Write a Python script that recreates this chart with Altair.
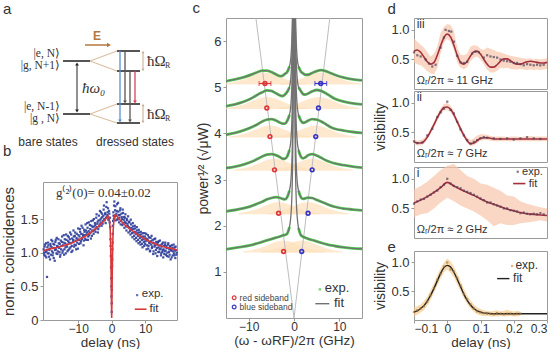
import altair as alt
import pandas as pd

SANS = "Liberation Sans"
SERIF = "Liberation Serif"
TXT = "#333333"
FRAME = "#9a9a9a"

# ---------------- panel a : level diagram (diagram units = picture px) ----------------
a_level_x = [63, 63, 117, 117, 117, 117]
a_level_x2 = [90, 90, 140, 140, 140, 140]
a_level_y = [61, 114, 51, 71, 104, 123]
a_split_x = [90, 90, 90, 90]
a_split_y = [61, 61, 114, 114]
a_split_x2 = [117, 117, 117, 117]
a_split_y2 = [51, 71, 104, 123]
a_trans_x = [120, 125, 130, 135]
a_trans_y = [51, 51, 71, 71]
a_trans_y2 = [121, 102, 121, 102]
a_trans_col = ["#5a8fd4", "#555555", "#555555", "#d8435a"]
a_kets = ["|e, N⟩", "|g, N+1⟩", "|e, N-1⟩", "|g , N⟩"]
a_kets_y = [54, 66, 107, 119]

# ---------------- panel b : g2 ----------------
b_exp = [
    (-20.3,1.05),(-20.1,0.97),(-19.9,1.12),(-19.7,1.01),(-19.5,0.93),(-19.3,0.64),(-19.2,1.08),(-19.0,1.15),(-18.8,0.99),(-18.6,1.04),
    (-18.4,0.90),(-18.2,1.10),(-18.0,1.19),(-17.8,1.02),(-17.6,0.96),(-17.4,1.13),(-17.2,1.07),(-17.0,0.88),(-16.8,1.16),(-16.6,1.05),
    (-16.4,1.22),(-16.2,0.98),(-16.0,1.09),(-15.8,1.14),(-15.6,1.01),(-15.4,0.94),(-15.2,1.18),(-15.0,1.10),(-14.8,1.24),(-14.6,1.03),
    (-14.4,1.15),(-14.2,0.97),(-14.0,1.20),(-13.8,1.08),(-13.6,1.27),(-13.4,1.12),(-13.2,1.02),(-13.0,1.17),(-12.8,1.23),(-12.6,1.06),
    (-12.4,1.30),(-12.2,1.14),(-12.0,1.01),(-11.8,1.21),(-11.6,1.16),(-11.4,1.33),(-11.2,1.09),(-11.0,1.25),(-10.8,1.18),(-10.6,1.05),
    (-10.4,1.28),(-10.2,1.20),(-10.0,1.36),(-9.8,1.13),(-9.6,1.24),(-9.4,1.31),(-9.2,1.17),(-9.0,1.40),(-8.8,1.22),(-8.6,1.27),
    (-8.4,1.11),(-8.2,1.34),(-8.0,1.26),(-7.8,1.42),(-7.6,1.19),(-7.4,1.30),(-7.2,1.37),(-7.0,1.24),(-6.8,1.45),(-6.6,1.29),
    (-6.4,1.35),(-6.2,1.21),(-6.0,1.40),(-5.8,1.33),(-5.6,1.48),(-5.4,1.28),(-5.2,1.39),(-5.0,1.44),(-4.8,1.31),(-4.6,1.52),
    (-4.4,1.38),(-4.2,1.46),(-4.0,1.35),(-3.8,1.55),(-3.6,1.42),(-3.4,1.49),(-3.2,1.60),(-3.0,1.40),(-2.8,1.53),(-2.6,1.47),
    (-2.4,1.64),(-2.2,1.50),(-2.0,1.57),(-1.8,1.44),(-1.6,1.68),(-1.4,1.53),(-1.2,1.60),(-1.0,1.49),(-0.8,1.62),(-0.6,1.45),
    (-0.45,1.38),(-0.35,1.20),(-0.25,0.95),(-0.15,0.62),(-0.08,0.35),(0.0,0.12),(0.05,0.45),(0.12,0.80),(0.2,1.05),(0.3,1.28),
    (0.42,1.47),(0.55,1.55),(0.7,1.70),(0.85,1.52),(1.0,1.63),(1.2,1.48),(1.4,1.58),(1.6,1.72),(1.8,1.50),(2.0,1.61),
    (2.2,1.45),(2.4,1.56),(2.6,1.66),(2.8,1.47),(3.0,1.53),(3.2,1.41),(3.4,1.59),(3.6,1.49),(3.8,1.37),(4.0,1.52),
    (4.2,1.44),(4.4,1.33),(4.6,1.48),(4.8,1.40),(5.0,1.30),(5.2,1.46),(5.4,1.36),(5.6,1.27),(5.8,1.42),(6.0,1.34),
    (6.2,1.23),(6.4,1.39),(6.6,1.30),(6.8,1.20),(7.0,1.36),(7.2,1.28),(7.4,1.17),(7.6,1.33),(7.8,1.25),(8.0,1.14),
    (8.2,1.30),(8.4,1.22),(8.6,1.12),(8.8,1.27),(9.0,1.19),(9.2,1.08),(9.4,1.24),(9.6,1.16),(9.8,1.29),(10.0,1.13),
    (10.2,1.21),(10.4,1.05),(10.6,1.18),(10.8,1.26),(11.0,1.10),(11.2,1.15),(11.4,1.02),(11.6,1.22),(11.8,1.12),(12.0,1.07),
    (12.2,1.19),(12.4,0.98),(12.6,1.14),(12.8,1.09),(13.0,1.21),(13.2,1.04),(13.4,1.12),(13.6,0.95),(13.8,1.16),(14.0,1.08),
    (14.2,1.01),(14.4,1.18),(14.6,1.06),(14.8,0.99),(15.0,1.13),(15.2,1.04),(15.4,0.93),(15.6,1.10),(15.8,1.02),(16.0,1.15),
    (16.2,0.97),(16.4,1.07),(16.6,1.00),(16.8,1.12),(17.0,0.94),(17.2,1.05),(17.4,1.09),(17.6,0.90),(17.8,1.03),(18.0,1.11),
    (18.2,0.96),(18.4,1.06),(18.6,0.99),(18.8,1.08),(19.0,0.92),(19.2,1.04),(19.4,1.00),
    (-20.2,1.00),(-20.0,1.09),(-19.8,0.95),(-19.6,1.14),(-19.4,1.03),(-19.1,0.99),(-18.9,1.11),(-18.7,0.94),(-18.5,1.06),(-18.3,1.13),
    (-18.1,0.97),(-17.9,1.08),(-17.7,1.17),(-17.5,1.00),(-17.3,0.92),(-17.1,1.12),(-16.9,1.04),(-16.7,1.19),(-16.5,0.99),(-16.3,1.10),
    (-16.1,1.02),(-15.9,1.20),(-15.7,1.07),(-15.5,1.13),(-15.3,0.97),(-15.1,1.05),(-14.9,1.16),(-14.7,1.00),(-14.5,1.11),(-14.3,1.26),
    (-14.1,1.05),(-13.9,1.14),(-13.7,0.99),(-13.5,1.19),(-13.3,1.09),(-13.1,1.25),(-12.9,1.04),(-12.7,1.15),(-12.5,1.20),(-12.3,1.08),
    (-12.1,1.27),(-11.9,1.10),(-11.7,1.03),(-11.5,1.19),(-11.3,1.24),(-11.1,1.12),(-10.9,1.30),(-10.7,1.11),(-10.5,1.22),(-10.3,1.15),
    (-10.1,1.06),(-9.9,1.26),(-9.7,1.19),(-9.5,1.35),(-9.3,1.14),(-9.1,1.28),(-8.9,1.20),(-8.7,1.37),(-8.5,1.25),(-8.3,1.18),
    (-8.1,1.31),(-7.9,1.21),(-7.7,1.33),(-7.5,1.27),(-7.3,1.44),(-7.1,1.19),(-6.9,1.32),(-6.7,1.26),(-6.5,1.41),(-6.3,1.30),
    (-6.1,1.47),(-5.9,1.25),(-5.7,1.38),(-5.5,1.32),(-5.3,1.50),(-5.1,1.34),(-4.9,1.41),(-4.7,1.36),(-4.5,1.57),(-4.3,1.43),
    (-4.1,1.30),(-3.9,1.48),(-3.7,1.39),(-3.5,1.62),(-3.3,1.45),(-3.1,1.51),(-2.9,1.58),(-2.7,1.43),(-2.5,1.55),(-2.3,1.70),
    (-2.1,1.48),(-1.9,1.59),(-1.7,1.52),(-1.5,1.75),(-1.3,1.56),(-1.1,1.66),(-0.9,1.51),(-0.7,1.58),(-0.5,1.52),(-0.3,1.10),
    (-0.2,0.78),(-0.1,0.50),(0.02,0.25),(0.08,0.62),(0.15,0.90),(0.25,1.15),(0.35,1.40),(0.5,1.60),(0.65,1.50),(0.8,1.76),
    (0.95,1.55),(1.1,1.69),(1.3,1.55),(1.5,1.62),(1.7,1.49),(1.9,1.74),(2.1,1.56),(2.3,1.52),(2.5,1.63),(2.7,1.42),
    (2.9,1.58),(3.1,1.50),(3.3,1.64),(3.5,1.44),(3.7,1.53),(3.9,1.46),(4.1,1.57),(4.3,1.39),(4.5,1.50),(4.7,1.43),
    (4.9,1.54),(5.1,1.38),(5.3,1.45),(5.5,1.32),(5.7,1.49),(5.9,1.37),(6.1,1.29),(6.3,1.44),(6.5,1.35),(6.7,1.25),
    (6.9,1.40),(7.1,1.31),(7.3,1.22),(7.5,1.38),(7.7,1.29),(7.9,1.19),(8.1,1.34),(8.3,1.26),(8.5,1.16),(8.7,1.31),
    (8.9,1.23),(9.1,1.13),(9.3,1.29),(9.5,1.20),(9.7,1.10),(9.9,1.24),(10.1,1.17),(10.3,1.28),(10.5,1.11),(10.7,1.20),
    (10.9,1.06),(11.1,1.23),(11.3,1.14),(11.5,1.03),(11.7,1.17),(11.9,1.25),(12.1,1.09),(12.3,1.15),(12.5,1.02),(12.7,1.20),
    (12.9,1.11),(13.1,0.99),(13.3,1.16),(13.5,1.07),(13.7,1.13),(13.9,1.01),(14.1,1.17),(14.3,1.05),(14.5,1.11),(14.7,0.96),
    (14.9,1.09),(15.1,1.01),(15.3,1.15),(15.5,1.05),(15.7,0.98),(15.9,1.12),(16.1,1.03),(16.3,1.10),(16.5,0.95),(16.7,1.07),
    (16.9,1.14),(17.1,1.01),(17.3,0.97),(17.5,1.10),(17.7,1.04),(17.9,0.93),(18.1,1.07),(18.3,1.02),(18.5,1.12),(18.7,0.96),
    (18.9,1.03),(19.1,1.09),(19.3,0.97),
]
b_fit_x = [-20.5,-18,-16,-14,-12,-10,-8,-6,-4,-3,-2,-1.5,-1,-0.7,-0.45,-0.3,-0.18,-0.08,0,0.08,0.18,0.3,0.45,0.7,1,1.5,2,3,4,6,8,10,12,14,16,18,19.5]
b_fit_y = [1.03,1.06,1.08,1.11,1.14,1.19,1.24,1.31,1.39,1.44,1.49,1.52,1.54,1.50,1.35,1.10,0.75,0.30,0.03,0.30,0.75,1.10,1.35,1.50,1.56,1.55,1.51,1.46,1.41,1.33,1.26,1.20,1.15,1.11,1.08,1.06,1.04]

# ---------------- panel c : spectra ----------------
c_x = [-15,-13,-11,-9,-8,-7,-6,-5,-4,-3,-2.5,-2,-1.5,-1,-0.7,-0.5,-0.3,-0.2,-0.1,0,
       0.1,0.2,0.3,0.5,0.7,1,1.5,2,2.5,3,4,5,6,7,8,9,11,13,15]
c_traces = [
    [1.49,1.52,1.55,1.59,1.62,1.65,1.68,1.71,1.74,1.77,1.79,1.80,1.83,1.97,2.2,2.55,3.4,4.4,5.8,7.8,
     5.8,4.4,3.4,2.55,2.2,1.95,1.80,1.76,1.74,1.72,1.69,1.66,1.63,1.60,1.58,1.56,1.53,1.51,1.50],
    [2.31,2.34,2.38,2.44,2.48,2.52,2.57,2.60,2.62,2.60,2.58,2.57,2.62,2.76,2.96,3.31,4.16,5.16,6.56,8.6,
     6.56,5.16,4.16,3.31,2.96,2.76,2.62,2.58,2.59,2.61,2.60,2.56,2.52,2.48,2.44,2.41,2.37,2.35,2.33],
    [3.25,3.28,3.33,3.40,3.45,3.50,3.54,3.55,3.53,3.48,3.45,3.45,3.50,3.64,3.84,4.19,5.04,6.04,7.44,9.4,
     7.44,6.04,5.04,4.19,3.84,3.64,3.50,3.46,3.48,3.52,3.55,3.52,3.47,3.42,3.38,3.35,3.31,3.28,3.26],
    [3.97,4.01,4.07,4.15,4.20,4.26,4.30,4.31,4.28,4.23,4.21,4.21,4.27,4.40,4.60,4.95,5.8,6.8,8.2,10,
     8.2,6.8,5.8,4.95,4.60,4.40,4.28,4.23,4.24,4.27,4.31,4.30,4.26,4.20,4.14,4.10,4.06,4.03,4.01],
    [4.59,4.63,4.69,4.78,4.84,4.89,4.93,4.92,4.87,4.82,4.81,4.84,4.90,5.0,5.2,5.55,6.4,7.4,8.8,10,
     8.8,7.4,6.4,5.55,5.2,5.0,4.92,4.85,4.84,4.86,4.91,4.94,4.92,4.87,4.81,4.75,4.69,4.65,4.63],
    [5.13,5.17,5.22,5.29,5.33,5.36,5.36,5.33,5.28,5.24,5.25,5.29,5.33,5.45,5.63,5.98,6.83,7.8,9.2,10,
     9.2,7.8,6.83,5.98,5.63,5.45,5.34,5.30,5.27,5.27,5.31,5.35,5.37,5.35,5.31,5.27,5.21,5.17,5.15],
]
c_base = [1.49, 2.32, 3.26, 3.98, 4.60, 5.13]
c_red = [-2.3, -3.4, -4.3, -5.3, -6.0, -6.4]
c_blue = [1.7, 3.1, 4.0, 4.8, 5.4, 5.9]
c_err = 1.3
c_peach_dx = [-9,-7,-5,-4,-3,-2,-1,0,1,2,3,4,5,7,9]
c_peach_h = [0.02,0.05,0.10,0.14,0.18,0.22,0.25,0.26,0.25,0.22,0.18,0.14,0.10,0.05,0.02]
c_vline_x = [0, -8.4, 0, 7.9]
c_vline_y = [0, 6.5, 0, 6.5]
c_vline_g = ["L", "L", "R", "R"]

# ---------------- panels d, e : visibility ----------------
d_x = [-0.10,-0.09,-0.08,-0.07,-0.06,-0.05,-0.04,-0.03,-0.02,-0.01,0.00,0.01,0.02,0.03,0.04,0.05,0.06,0.07,0.08,0.09,0.10,
       0.11,0.12,0.13,0.14,0.15,0.16,0.17,0.18,0.19,0.20,0.21,0.22,0.23,0.24,0.25,0.26,0.27,0.28,0.29,0.30]
d3_fit = [0.64,0.66,0.62,0.54,0.46,0.42,0.45,0.57,0.73,0.87,0.93,0.88,0.74,0.57,0.45,0.42,0.47,0.56,0.63,0.64,0.59,
          0.50,0.42,0.37,0.37,0.41,0.47,0.51,0.51,0.48,0.44,0.42,0.42,0.44,0.46,0.47,0.46,0.45,0.44,0.44,0.45]
d3_lo = [0.45,0.42,0.40,0.36,0.30,0.26,0.25,0.35,0.60,0.78,0.85,0.80,0.66,0.45,0.36,0.33,0.37,0.47,0.53,0.55,0.50,
         0.42,0.32,0.28,0.28,0.31,0.36,0.35,0.36,0.34,0.33,0.33,0.34,0.33,0.32,0.33,0.32,0.33,0.32,0.33,0.34]
d3_hi = [0.85,0.80,0.75,0.70,0.62,0.55,0.60,0.72,0.95,1.05,1.10,1.08,0.98,0.70,0.58,0.57,0.60,0.72,0.74,0.73,0.68,
         0.66,0.70,0.68,0.66,0.63,0.62,0.60,0.58,0.56,0.55,0.54,0.53,0.52,0.51,0.52,0.50,0.51,0.50,0.51,0.52]
d3_exp = [(-0.10,0.62),(-0.09,0.57),(-0.08,0.55),(-0.065,0.50),(-0.055,0.43),(-0.045,0.38),(-0.035,0.41),(-0.02,0.70),
          (-0.01,0.87),(-0.005,1.00),(0.005,0.98),(0.012,0.97),(0.02,0.80),(0.03,0.56),(0.04,0.45),(0.05,0.44),(0.06,0.46),
          (0.075,0.60),(0.085,0.63),(0.095,0.62),(0.11,0.53),(0.12,0.57),(0.13,0.55),(0.14,0.54),(0.15,0.53),(0.16,0.50),
          (0.17,0.48),(0.18,0.47),(0.19,0.46),(0.20,0.44),(0.21,0.44),(0.22,0.42),(0.23,0.40),(0.24,0.42),(0.25,0.41),
          (0.26,0.40),(0.27,0.41),(0.28,0.40),(0.29,0.41)]
d2_fit = [0.34,0.32,0.32,0.35,0.42,0.52,0.63,0.75,0.85,0.92,0.93,0.89,0.80,0.68,0.56,0.45,0.36,0.31,0.32,0.36,0.40,
          0.41,0.41,0.40,0.39,0.39,0.39,0.39,0.39,0.39,0.39,0.39,0.39,0.39,0.39,0.39,0.39,0.39,0.39,0.39,0.39]
d2_lo = [0.30,0.28,0.28,0.31,0.38,0.48,0.58,0.70,0.80,0.87,0.88,0.84,0.75,0.63,0.51,0.41,0.32,0.27,0.28,0.32,0.36,
         0.37,0.37,0.36,0.35,0.35,0.35,0.35,0.35,0.35,0.35,0.35,0.35,0.35,0.35,0.35,0.35,0.35,0.35,0.35,0.35]
d2_hi = [0.39,0.36,0.37,0.40,0.47,0.57,0.68,0.80,0.91,0.98,1.00,0.95,0.86,0.73,0.61,0.50,0.41,0.37,0.40,0.45,0.47,
         0.47,0.46,0.44,0.43,0.43,0.43,0.43,0.42,0.43,0.43,0.43,0.42,0.43,0.43,0.44,0.43,0.43,0.43,0.43,0.43]
d2_exp = [(-0.10,0.35),(-0.09,0.32),(-0.075,0.33),(-0.06,0.45),(-0.045,0.56),(-0.03,0.76),(-0.02,0.84),(-0.01,0.90),
          (0.0,1.02),(0.01,0.88),(0.02,0.82),(0.03,0.68),(0.04,0.55),(0.05,0.45),(0.06,0.37),(0.07,0.31),(0.08,0.34),
          (0.09,0.37),(0.10,0.40),(0.11,0.42),(0.12,0.41),(0.14,0.40),(0.16,0.39),(0.18,0.40),(0.20,0.38),(0.22,0.40),
          (0.24,0.42),(0.26,0.40),(0.28,0.39)]
d1_x = [-0.10,-0.08,-0.06,-0.04,-0.02,0.00,0.02,0.04,0.06,0.08,0.10,0.12,0.14,0.16,0.18,0.20,0.22,0.24,0.26,0.28,0.30]
d1_fit = [0.59,0.64,0.70,0.77,0.85,0.94,0.88,0.82,0.77,0.72,0.66,0.61,0.57,0.53,0.49,0.46,0.43,0.41,0.40,0.39,0.38]
d1_lo = [0.35,0.40,0.42,0.50,0.60,0.68,0.62,0.55,0.50,0.45,0.38,0.30,0.20,0.25,0.22,0.22,0.25,0.26,0.28,0.30,0.28]
d1_hi = [0.82,0.88,0.95,1.05,1.15,1.22,1.25,1.15,1.05,1.00,0.92,0.90,0.85,0.80,0.72,0.70,0.62,0.58,0.55,0.52,0.50]
d1_exp = [(-0.10,0.58),(-0.09,0.62),(-0.08,0.65),(-0.07,0.66),(-0.06,0.70),(-0.05,0.73),(-0.04,0.77),(-0.03,0.80),
          (-0.02,0.86),(-0.01,0.90),(0.0,1.00),(0.01,0.92),(0.02,0.88),(0.03,0.86),(0.04,0.84),(0.05,0.80),(0.06,0.78),
          (0.07,0.76),(0.08,0.73),(0.09,0.70),(0.10,0.67),(0.11,0.64),(0.12,0.60),(0.13,0.60),(0.14,0.57),(0.15,0.55),
          (0.16,0.53),(0.17,0.50),(0.18,0.50),(0.19,0.47),(0.20,0.46),(0.21,0.45),(0.22,0.42),(0.23,0.43),(0.24,0.41),
          (0.25,0.40),(0.26,0.41),(0.27,0.40),(0.28,0.42),(0.29,0.40)]
e_fit = [0.14,0.16,0.20,0.25,0.33,0.43,0.55,0.68,0.81,0.91,0.95,0.92,0.83,0.71,0.58,0.45,0.34,0.26,0.20,0.16,0.14,
         0.12,0.12,0.11,0.11,0.11,0.11,0.11,0.11,0.11,0.11,0.11,0.11,0.11,0.11,0.11,0.11,0.11,0.11,0.11,0.11]
e_lo = [0.06,0.09,0.13,0.17,0.25,0.35,0.47,0.60,0.72,0.83,0.88,0.82,0.74,0.62,0.50,0.38,0.28,0.20,0.14,0.10,0.08,
        0.07,0.07,0.06,0.06,0.06,0.07,0.06,0.06,0.07,0.06,0.06,0.07]
e_hi = [0.22,0.24,0.27,0.33,0.41,0.52,0.64,0.78,0.90,1.00,1.07,1.02,0.93,0.81,0.68,0.55,0.43,0.34,0.27,0.22,0.19,
        0.17,0.16,0.15,0.16,0.17,0.15,0.16,0.18,0.16,0.15,0.16,0.15]
e_exp = [(-0.10,0.14),(-0.09,0.17),(-0.08,0.20),(-0.07,0.24),(-0.06,0.32),(-0.05,0.43),(-0.04,0.55),(-0.03,0.70),
         (-0.02,0.80),(-0.01,0.93),(0.0,1.00),(0.01,0.88),(0.02,0.84),(0.03,0.73),(0.04,0.60),(0.05,0.45),(0.06,0.36),
         (0.07,0.27),(0.08,0.20),(0.09,0.15),(0.10,0.13),(0.11,0.12),(0.12,0.11),(0.13,0.11),(0.14,0.10),(0.15,0.12),
         (0.16,0.11),(0.17,0.10),(0.18,0.11),(0.19,0.11),(0.20,0.10),(0.21,0.11),(0.22,0.11)]


def XY(xdom, ydom, xaxis=None, yaxis=None, yrev=False):
    x = alt.X("x:Q", scale=alt.Scale(domain=xdom, nice=False, zero=False), axis=xaxis)
    y = alt.Y("y:Q", scale=alt.Scale(domain=ydom, nice=False, zero=False, reverse=yrev), axis=yaxis)
    return x, y


def txt(df, x, y, size, color=TXT, align="left", font=SANS, style="normal", weight="normal"):
    return alt.Chart(df).mark_text(align=align, baseline="middle", fontSize=size, color=color,
                                   font=font, fontStyle=style, fontWeight=weight, clip=False).encode(
        x=x, y=y, text="t:N")


def xaxis_bottom(values, title, expr=None, title_y=15):
    kw = dict(values=values, title=title, titleY=title_y, labelPadding=0, labelFontSize=12, titleFontSize=13.5)
    if expr:
        kw["labelExpr"] = expr
    return alt.Axis(**kw)


# ======================= panel a (plot area = x 43..177, y 18..140 in picture px) =======================
ax, ay = XY([43, 177], [18, 140], yrev=True)
a_layers = [
    alt.Chart(pd.DataFrame({"x": a_split_x, "y": a_split_y, "x2": a_split_x2, "y2": a_split_y2}))
    .mark_rule(color="#dcbfa3", strokeWidth=1.2).encode(x=ax, y=ay, x2="x2:Q", y2="y2:Q"),
    alt.Chart(pd.DataFrame({"x": a_level_x, "x2": a_level_x2, "y": a_level_y}))
    .mark_rule(color="#555555", strokeWidth=2).encode(x=ax, x2="x2:Q", y=ay),
    alt.Chart(pd.DataFrame({"x": a_trans_x, "y": a_trans_y, "y2": a_trans_y2, "c": a_trans_col}))
    .mark_rule(strokeWidth=1.3).encode(x=ax, y=ay, y2="y2:Q", color=alt.Color("c:N", scale=None)),
    alt.Chart(pd.DataFrame({"x": a_trans_x, "y": a_trans_y2, "c": a_trans_col}))
    .mark_point(shape="triangle-down", filled=True, size=14, opacity=1)
    .encode(x=ax, y=ay, color=alt.Color("c:N", scale=None)),
    alt.Chart(pd.DataFrame({"x": [77], "y": [64], "y2": [111]}))
    .mark_rule(color="#222222", strokeWidth=1).encode(x=ax, y=ay, y2="y2:Q"),
    alt.Chart(pd.DataFrame({"x": [77, 77], "y": [64, 111], "s": ["triangle-up", "triangle-down"]}))
    .mark_point(filled=True, size=14, color="#222222", opacity=1)
    .encode(x=ax, y=ay, shape=alt.Shape("s:N", scale=None)),
    alt.Chart(pd.DataFrame({"x": [143, 143], "y": [52, 105], "y2": [70, 122]}))
    .mark_rule(color="#c9a98c", strokeWidth=1).encode(x=ax, y=ay, y2="y2:Q"),
    alt.Chart(pd.DataFrame({"x": [143, 143, 143, 143], "y": [52, 70, 105, 122],
                            "s": ["triangle-up", "triangle-down", "triangle-up", "triangle-down"]}))
    .mark_point(filled=True, size=8, color="#c9a98c", opacity=1)
    .encode(x=ax, y=ay, shape=alt.Shape("s:N", scale=None)),
    alt.Chart(pd.DataFrame({"x": [85], "x2": [108], "y": [45]}))
    .mark_rule(color="#b5783c", strokeWidth=1.5).encode(x=ax, x2="x2:Q", y=ay),
    alt.Chart(pd.DataFrame({"x": [109], "y": [45]}))
    .mark_point(shape="triangle-right", filled=True, size=22, color="#b5783c", opacity=1).encode(x=ax, y=ay),
    txt(pd.DataFrame({"x": [97], "y": [36], "t": ["E"]}), ax, ay, 12, color="#b5783c", align="center", weight="bold"),
    txt(pd.DataFrame({"x": [60] * 4, "y": a_kets_y, "t": a_kets}), ax, ay, 11.5, align="right", font=SERIF),
    txt(pd.DataFrame({"x": [82], "y": [88], "t": ["ħω₀"]}), ax, ay, 15, font=SERIF, style="italic"),
    txt(pd.DataFrame({"x": [147, 147], "y": [61, 114], "t": ["ħΩ", "ħΩ"]}), ax, ay, 15, font=SERIF),
    txt(pd.DataFrame({"x": [165, 165], "y": [66, 119], "t": ["R", "R"]}), ax, ay, 8, font=SERIF),
    txt(pd.DataFrame({"x": [48, 135], "y": [142, 142], "t": ["bare states", "dressed states"]}), ax, ay, 12,
        align="center"),
    txt(pd.DataFrame({"x": [3, 3], "y": [9, 151], "t": ["a", "b"]}), ax, ay, 15),
]
panel_a = alt.layer(*a_layers).properties(width=134, height=122, view=alt.ViewBackground(stroke="transparent"))

# ======================= panel b =======================
bx, by = XY([-20.5, 19.5], [0, 2.05],
            xaxis=xaxis_bottom([-10, 0, 10], "delay (ns)"),
            yaxis=alt.Axis(values=[0, 0.5, 1.0, 1.5], title="norm. coincidences", titleFontSize=15,
                           labelExpr="datum.value == 0 ? '0' : format(datum.value, '.1f')"))
b_df = pd.DataFrame(b_exp, columns=["x", "y"])
panel_b = alt.layer(
    alt.Chart(b_df).mark_square(size=5, color="#2e3d99", opacity=0.9).encode(x=bx, y=by),
    alt.Chart(pd.DataFrame({"x": b_fit_x, "y": b_fit_y})).mark_line(color="#d8383a", strokeWidth=1.6)
    .encode(x=bx, y=by),
    txt(pd.DataFrame({"x": [-2.5], "y": [1.88], "t": ["g⁽²⁾(0)= 0.04±0.02"]}), bx, by, 13, align="center",
        font=SERIF),
    alt.Chart(pd.DataFrame({"x": [7.6], "y": [0.37]})).mark_square(size=5, color="#2e3d99").encode(x=bx, y=by),
    alt.Chart(pd.DataFrame({"x": [6.9], "x2": [10.4], "y": [0.16]})).mark_rule(color="#d8383a", strokeWidth=1.6)
    .encode(x=bx, x2="x2:Q", y=by),
    txt(pd.DataFrame({"x": [9.0, 11.3], "y": [0.39, 0.17], "t": ["exp.", "fit"]}), bx, by, 11.5),
).properties(width=134, height=138)

panel_col1 = alt.vconcat(panel_a, panel_b, spacing=21)

# ======================= panel c =======================
cx, cy = XY([-15, 15], [0, 6.5],
            xaxis=xaxis_bottom([-10, 0, 10], "(ω - ωRF)/2π (GHz)"),
            yaxis=alt.Axis(values=[1, 2, 3, 4, 5, 6], title="power¹⁄² (√μW)"))
rows = []
for k, tr in enumerate(c_traces):
    for xv, yv in zip(c_x, tr):
        rows.append({"x": xv, "y": yv, "tr": k, "side": "L" if xv < 0 else "R"})
c_df = pd.DataFrame(rows)
green_df = c_df[(c_df["x"] <= -1) | (c_df["x"] >= 1)]
prow = []
for k, b in enumerate(c_base):
    for side, cen in (("r", c_red[k]), ("b", c_blue[k])):
        for dx, h in zip(c_peach_dx, c_peach_h):
            prow.append({"x": cen + dx, "y": b - 0.07 + h, "y2": b - 0.07, "g": f"{k}{side}"})
peach_df = pd.DataFrame(prow)
mk_df = pd.DataFrame({"x": c_red + c_blue, "y": [b - 0.05 for b in c_base] * 2,
                      "c": ["#e0343a"] * 6 + ["#3434c8"] * 6})
err_df = pd.DataFrame({"x": [c_red[5] - c_err, c_blue[5] - c_err], "x2": [c_red[5] + c_err, c_blue[5] + c_err],
                       "y": [c_base[5] - 0.05] * 2, "c": ["#e0343a", "#3434c8"]})
cap_df = pd.DataFrame({"x": [c_red[5] - c_err, c_red[5] + c_err, c_blue[5] - c_err, c_blue[5] + c_err],
                       "y": [c_base[5] - 0.05] * 4, "c": ["#e0343a"] * 2 + ["#3434c8"] * 2})
panel_c = alt.layer(
    alt.Chart(peach_df).mark_area(color="#fddfbb", opacity=0.7, clip=True)
    .encode(x=cx, y=cy, y2="y2:Q", detail="g:N"),
    alt.Chart(pd.DataFrame({"x": c_vline_x, "y": c_vline_y, "g": c_vline_g}))
    .mark_line(color="#bdbdbd", strokeWidth=1, clip=True).encode(x=cx, y=cy, detail="g:N"),
    alt.Chart(green_df).mark_line(color="#44c944", strokeWidth=2.8, opacity=0.95, clip=True, interpolate="monotone")
    .encode(x=cx, y=cy, detail=["tr:N", "side:N"]),
    alt.Chart(c_df).mark_line(color="#727272", strokeWidth=1.3, clip=True, interpolate="monotone")
    .encode(x=cx, y=cy, detail="tr:N"),
    alt.Chart(err_df).mark_rule(strokeWidth=1.2).encode(x=cx, x2="x2:Q", y=cy, color=alt.Color("c:N", scale=None)),
    alt.Chart(cap_df).mark_point(shape="M0,-1L0,1", size=25, strokeWidth=1.2)
    .encode(x=cx, y=cy, color=alt.Color("c:N", scale=None)),
    alt.Chart(mk_df).mark_point(shape="circle", filled=False, size=14, strokeWidth=1.6, opacity=1)
    .encode(x=cx, y=cy, color=alt.Color("c:N", scale=None)),
    alt.Chart(pd.DataFrame({"x": [-13.2, -13.2], "y": [0.44, 0.24], "c": ["#e0343a", "#3434c8"]}))
    .mark_point(shape="circle", filled=False, size=14, strokeWidth=1.2, opacity=1)
    .encode(x=cx, y=cy, color=alt.Color("c:N", scale=None)),
    txt(pd.DataFrame({"x": [-12.0, -12.0], "y": [0.44, 0.24], "t": ["red sideband", "blue sideband"]}),
        cx, cy, 8.5, color="#444444"),
    alt.Chart(pd.DataFrame({"x": [5.7], "y": [0.62]})).mark_square(size=6, color="#44c944").encode(x=cx, y=cy),
    alt.Chart(pd.DataFrame({"x": [4.7], "x2": [7.8], "y": [0.31]})).mark_rule(color="#727272", strokeWidth=1.4)
    .encode(x=cx, x2="x2:Q", y=cy),
    txt(pd.DataFrame({"x": [6.8, 8.8], "y": [0.64, 0.33], "t": ["exp.", "fit"]}), cx, cy, 13),
    txt(pd.DataFrame({"x": [-22.4], "y": [6.72], "t": ["c"]}), cx, cy, 15),
).properties(width=136, height=300)

# ======================= panel d / e =======================
D_FIT = "#a42f3f"
D_DOT = "#4f4058"
D_BAND = "#f6c6ab"


def d_panel(fx, fy, lo, hi, exp, roman, label, ytitle, legend=False, letter=None):
    dx_, dy_ = XY([-0.1, 0.3], [0, 1.2], xaxis=None,
                  yaxis=alt.Axis(values=[0.5, 1.0], format=".1f", title=ytitle))
    layers = [
        alt.Chart(pd.DataFrame({"x": fx, "y": lo, "y2": hi})).mark_area(color=D_BAND, opacity=0.7)
        .encode(x=dx_, y=dy_, y2="y2:Q"),
        alt.Chart(pd.DataFrame({"x": fx, "y": fy})).mark_line(color=D_FIT, strokeWidth=1.6, interpolate="monotone")
        .encode(x=dx_, y=dy_),
        alt.Chart(pd.DataFrame(exp, columns=["x", "y"])).mark_square(size=5, color=D_DOT).encode(x=dx_, y=dy_),
        txt(pd.DataFrame({"x": [-0.092], "y": [1.1], "t": [roman]}), dx_, dy_, 12),
        txt(pd.DataFrame({"x": [-0.092], "y": [0.14], "t": [label]}), dx_, dy_, 11),
    ]
    if legend:
        layers += [
            alt.Chart(pd.DataFrame({"x": [0.212], "y": [1.12]})).mark_square(size=5, color=D_DOT)
            .encode(x=dx_, y=dy_),
            alt.Chart(pd.DataFrame({"x": [0.198], "x2": [0.235], "y": [0.92]}))
            .mark_rule(color=D_FIT, strokeWidth=1.6).encode(x=dx_, x2="x2:Q", y=dy_),
            txt(pd.DataFrame({"x": [0.225, 0.245], "y": [1.12, 0.92], "t": ["exp.", "fit"]}), dx_, dy_, 11),
        ]
    if letter:
        layers.append(txt(pd.DataFrame({"x": [-0.18], "y": [1.36], "t": [letter]}), dx_, dy_, 15))
    return alt.layer(*layers).properties(width=133, height=71)


d3 = d_panel(d_x, d3_fit, d3_lo, d3_hi, d3_exp, "iii", "Ωᵣ/2π ≈ 11 GHz", " ", letter="d")
d2 = d_panel(d_x, d2_fit, d2_lo, d2_hi, d2_exp, "ii", "Ωᵣ/2π ≈ 7 GHz", "visibility")
d1 = d_panel(d1_x, d1_fit, d1_lo, d1_hi, d1_exp, "i", "Ωᵣ/2π ≈ 2 GHz", " ", legend=True)

ex, ey = XY([-0.1, 0.3], [0, 1.2],
            xaxis=xaxis_bottom([-0.1, 0, 0.1, 0.2, 0.3], "delay (ns)",
                               "datum.value == 0 ? '0' : format(datum.value, '.1f')", title_y=15),
            yaxis=alt.Axis(values=[0.5, 1.0], format=".1f", title="visibility"))
panel_e = alt.layer(
    alt.Chart(pd.DataFrame({"x": d_x[:33], "y": e_lo, "y2": e_hi})).mark_area(color="#f3c47c", opacity=0.6)
    .encode(x=ex, y=ey, y2="y2:Q"),
    alt.Chart(pd.DataFrame({"x": d_x, "y": e_fit})).mark_line(color="#222222", strokeWidth=1.4, interpolate="monotone")
    .encode(x=ex, y=ey),
    alt.Chart(pd.DataFrame(e_exp, columns=["x", "y"])).mark_square(size=5, color="#9c7440").encode(x=ex, y=ey),
    alt.Chart(pd.DataFrame({"x": [0.195], "y": [0.94]})).mark_square(size=5, color="#d19a4a").encode(x=ex, y=ey),
    alt.Chart(pd.DataFrame({"x": [0.15], "x2": [0.187], "y": [0.72]})).mark_rule(color="#222222", strokeWidth=1.4)
    .encode(x=ex, x2="x2:Q", y=ey),
    txt(pd.DataFrame({"x": [0.205, 0.198], "y": [0.95, 0.73], "t": ["exp.", "fit"]}), ex, ey, 12),
    txt(pd.DataFrame({"x": [-0.18], "y": [1.27], "t": ["e"]}), ex, ey, 15),
).properties(width=133, height=69)

panel_col3 = alt.vconcat(d3, d2, d1, panel_e, spacing=0)

chart = alt.hconcat(panel_col1, panel_c, panel_col3, spacing=10).properties(
    padding={"left": 1, "top": 0, "right": 0, "bottom": 0}
).configure_axis(
    labelFont=SANS, titleFont=SANS, labelFontSize=13, titleFontSize=14, labelColor=TXT, titleColor=TXT,
    domain=False, tickColor=FRAME, tickSize=3, grid=False, titleFontWeight="normal", labelPadding=2,
    titlePadding=3
).configure_view(stroke=FRAME, strokeWidth=1).configure_title(color=TXT)

chart.save("out.html", embed_options={"renderer": "svg", "actions": False})
